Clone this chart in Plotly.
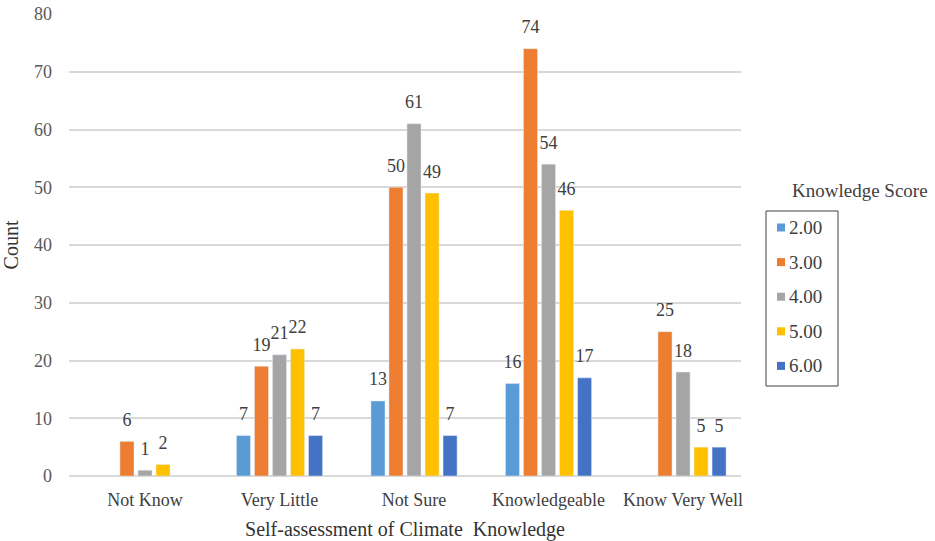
import plotly.graph_objects as go

categories = ["Not Know", "Very Little", "Not Sure", "Knowledgeable", "Know Very Well"]
series_names = ["2.00", "3.00", "4.00", "5.00", "6.00"]
s200 = [None, 7, 13, 16, None]
s300 = [6, 19, 50, 74, 25]
s400 = [1, 21, 61, 54, 18]
s500 = [2, 22, 49, 46, 5]
s600 = [None, 7, 7, 17, 5]
series_values = [s200, s300, s400, s500, s600]
colors = ["#5B9BD5", "#ED7D31", "#A5A5A5", "#FFC000", "#4472C4"]
legend_title = "Knowledge Score"

FONT = "Liberation Serif"

# plot-area geometry in pixels
W, H = 935, 541
L, R, T, B = 69, 741, 14, 476
pw, ph = R - L, B - T

def px(x):
    return (x - L) / pw

def py(y):
    return (B - y) / ph

fig = go.Figure()
for name, vals, col in zip(series_names, series_values, colors):
    fig.add_trace(go.Bar(
        name=name, x=categories, y=vals, marker_color=col,
        offsetgroup=name, showlegend=False, hoverinfo="x+y+name",
    ))
for name, vals in zip(series_names, series_values):
    fig.add_trace(go.Scatter(
        name=name, x=categories, y=vals, mode="markers+text",
        marker=dict(size=16, color="rgba(0,0,0,0)"),
        text=[("" if v is None else str(v)) for v in vals],
        textposition="top center", cliponaxis=False,
        textfont=dict(family=FONT, size=18, color="#404040"),
        offsetgroup=name, showlegend=False, hoverinfo="skip",
    ))

fig.update_layout(
    width=W, height=H,
    margin=dict(l=L, r=W - R, t=T, b=H - B),
    paper_bgcolor="white", plot_bgcolor="white",
    barmode="group", bargap=0.33, bargroupgap=0.22,
    scattermode="group", scattergap=0.33,
    font=dict(family=FONT, size=18, color="#404040"),
    showlegend=False,
    xaxis=dict(title=dict(text="Self-assessment of Climate&nbsp;&nbsp;Knowledge",
                          font=dict(family=FONT, size=20, color="#333333"), standoff=15),
               tickfont=dict(family=FONT, size=18, color="#404040"),
               range=[-0.565, 4.431], ticklabelstandoff=11, automargin=False,
               showgrid=False, showline=False, ticks=""),
    yaxis=dict(title=dict(text="Count", font=dict(family=FONT, size=20, color="#333333"), standoff=11),
               range=[0, 80], dtick=10, tickfont=dict(family=FONT, size=18, color="#595959"),
               ticklabelstandoff=16, automargin=False,
               showgrid=True, gridcolor="#D9D9D9", gridwidth=1.5,
               zeroline=True, zerolinecolor="#D9D9D9", zerolinewidth=1.5,
               showline=False, ticks=""),
)

# legend box, drawn to match the reference layout (title outside the box)
fig.add_shape(type="rect", xref="paper", yref="paper",
              x0=px(766), x1=px(838), y0=py(386), y1=py(211),
              line=dict(color="#404040", width=1), fillcolor="rgba(0,0,0,0)")
fig.add_annotation(text=legend_title, xref="paper", yref="paper",
                   x=px(790), y=py(191), xanchor="left", yanchor="middle",
                   showarrow=False, font=dict(family=FONT, size=19, color="#404040"))
for i, (name, col) in enumerate(zip(series_names, colors)):
    yc = 227.5 + i * 34.6
    fig.add_shape(type="rect", xref="paper", yref="paper",
                  x0=px(777), x1=px(785), y0=py(yc + 4), y1=py(yc - 4),
                  line=dict(width=0), fillcolor=col)
    fig.add_annotation(text=name, xref="paper", yref="paper",
                       x=px(787), y=py(yc), xanchor="left", yanchor="middle",
                       showarrow=False, font=dict(family=FONT, size=19, color="#404040"))

fig.write_html("out.html")
